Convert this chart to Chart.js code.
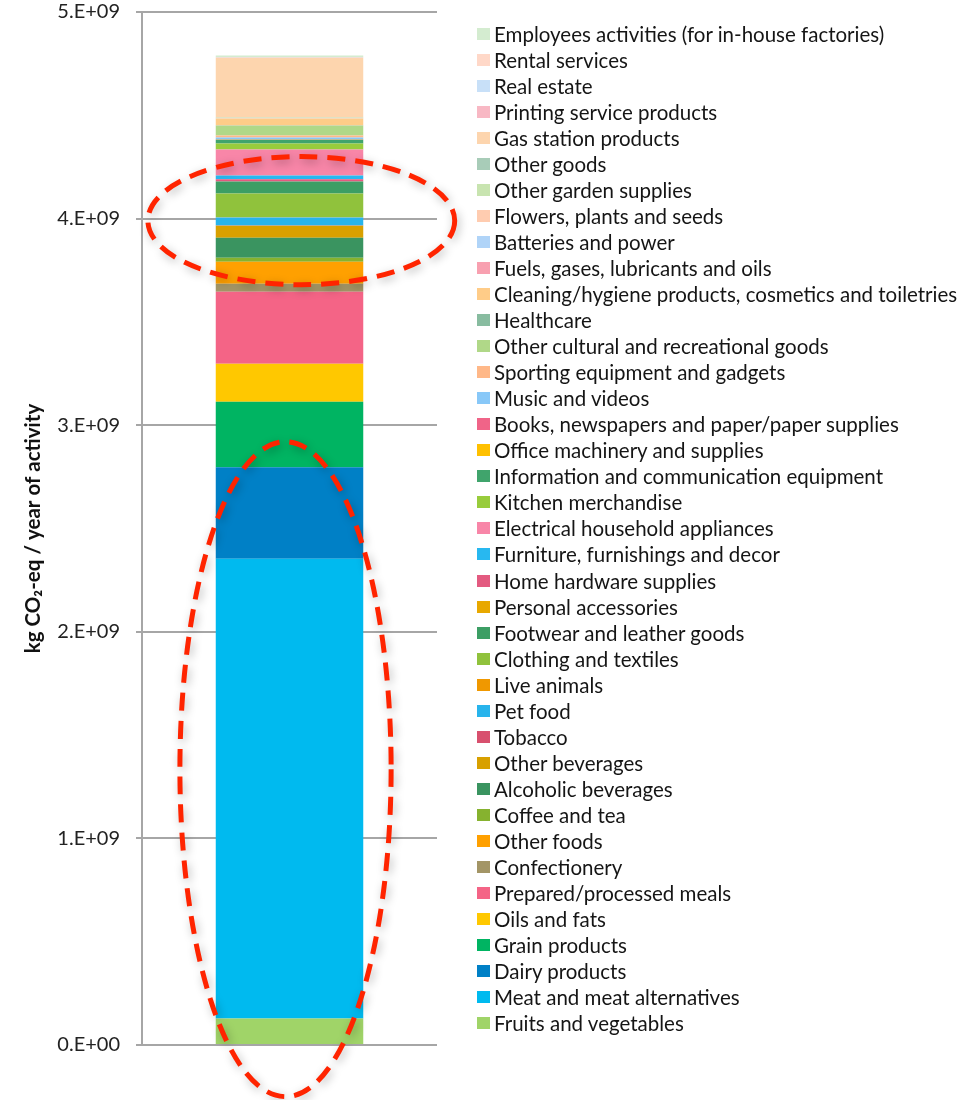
<!DOCTYPE html>
<html>
<head>
<meta charset="utf-8">
<script src="https://cdn.jsdelivr.net/npm/chart.js@4.4.1/dist/chart.umd.min.js"></script>
<style>
  html, body { margin: 0; padding: 0; background: #fff; }
  #wrap { position: relative; width: 976px; height: 1100px; }
  #c { position: absolute; left: 0; top: 0; }
  #legend { position: absolute; left: 477px; top: 20.5px; font-family: Lato, "Open Sans", sans-serif; font-size: 20.5px; color: #151515; }
  .item { display: flex; align-items: center; height: 26.05px; white-space: nowrap; }
  .box { width: 13px; height: 12px; margin-right: 4px; flex: none; }
</style>
</head>
<body>
<div id="wrap">
  <canvas id="c" width="976" height="1100"></canvas>
  <div id="legend"></div>
</div>
<script>
// Categories, bottom of the stack first
const categories = [
  "Fruits and vegetables",
  "Meat and meat alternatives",
  "Dairy products",
  "Grain products",
  "Oils and fats",
  "Prepared/processed meals",
  "Confectionery",
  "Other foods",
  "Coffee and tea",
  "Alcoholic beverages",
  "Other beverages",
  "Tobacco",
  "Pet food",
  "Live animals",
  "Clothing and textiles",
  "Footwear and leather goods",
  "Personal accessories",
  "Home hardware supplies",
  "Furniture, furnishings and decor",
  "Electrical household appliances",
  "Kitchen merchandise",
  "Information and communication equipment",
  "Office machinery and supplies",
  "Books, newspapers and paper/paper supplies",
  "Music and videos",
  "Sporting equipment and gadgets",
  "Other cultural and recreational goods",
  "Healthcare",
  "Cleaning/hygiene products, cosmetics and toiletries",
  "Fuels, gases, lubricants and oils",
  "Batteries and power",
  "Flowers, plants and seeds",
  "Other garden supplies",
  "Other goods",
  "Gas station products",
  "Printing service products",
  "Real estate",
  "Rental services",
  "Employees activities (for in-house factories)"
];

// kg CO2-eq / year of activity
const values = [
  0.128e9, 2.226e9, 0.442e9, 0.318e9, 0.184e9, 0.348e9, 0.039e9, 0.106e9,
  0.019e9, 0.097e9, 0.058e9, 0.001e9, 0.039e9, 0.001e9, 0.115e9, 0.058e9,
  0.001e9, 0.010e9, 0.019e9, 0.125e9, 0.029e9, 0.019e9, 0.001e9, 0.001e9,
  0.009e9, 0.009e9, 0.048e9, 0.001e9, 0.033e9, 0.001e9, 0.001e9, 0.001e9,
  0.001e9, 0.001e9, 0.288e9, 0.001e9, 0.001e9, 0.001e9, 0.010e9
];

const colors = [
  "#a0d468", "#00baef", "#0080c6", "#00b462", "#ffc800", "#f46486", "#a39566", "#ffa000",
  "#86b22f", "#3a9460", "#d8a000", "#d8506e", "#28b4ec", "#f09800", "#90c23c", "#3c9e64",
  "#e8a800", "#e35a80", "#28b8f0", "#f886a8", "#98cc3c", "#40a46c", "#ffc000", "#f06488",
  "#88c8f8", "#ffb888", "#b0d888", "#88bca0", "#ffcc88", "#f8a0b0", "#b0d4f8", "#ffccb0",
  "#c8e4b0", "#a8ccb8", "#fdd5ae", "#f8b8c4", "#c8e0f8", "#ffd8c8", "#d4ecd0"
];

const yTicks = [0, 1e9, 2e9, 3e9, 4e9, 5e9];
const yTickLabels = ["0.E+00", "1.E+09", "2.E+09", "3.E+09", "4.E+09", "5.E+09"];

// Highlight ellipses (value units on y, multiples of bar width on x)
const highlightYFrom = [3.68e9, -0.25e9];
const highlightYTo   = [4.30e9, 2.92e9];
const highlightDx    = [0.08, -0.027];
const highlightRx    = [1.04, 0.716];

const ellipsePlugin = {
  id: 'ellipses',
  afterDraw(chart) {
    const ctx = chart.ctx;
    const y = chart.scales.y;
    const bar = chart.getDatasetMeta(0).data[0];
    const bw = bar.width;
    ctx.save();
    for (let i = 0; i < highlightYFrom.length; i++) {
      const y1 = y.getPixelForValue(highlightYFrom[i]);
      const y2 = y.getPixelForValue(highlightYTo[i]);
      const cy = (y1 + y2) / 2, ry = Math.abs(y1 - y2) / 2;
      const cx = bar.x + highlightDx[i] * bw, rx = highlightRx[i] * bw;
      ctx.beginPath();
      ctx.ellipse(cx, cy, rx, ry, 0, 0, Math.PI * 2);
      ctx.setLineDash([18, 10]);
      ctx.lineWidth = 5;
      ctx.strokeStyle = '#ff2400';
      ctx.shadowColor = 'rgba(0,0,0,0.28)';
      ctx.shadowBlur = 10;
      ctx.shadowOffsetX = 2;
      ctx.shadowOffsetY = 3;
      ctx.stroke();
    }
    ctx.restore();
  }
};

const datasets = categories.map((name, i) => ({
  label: name,
  data: [values[i]],
  backgroundColor: colors[i],
  borderWidth: 0,
  categoryPercentage: 1.0,
  barPercentage: 0.5
}));

new Chart(document.getElementById('c'), {
  type: 'bar',
  data: { labels: [''], datasets },
  options: {
    responsive: false,
    animation: false,
    layout: { padding: { left: 18, right: 539, top: 12, bottom: 55 } },
    plugins: { legend: { display: false }, tooltip: { enabled: false } },
    scales: {
      x: { stacked: true, display: false },
      y: {
        stacked: true,
        min: 0,
        max: 5e9,
        afterBuildTicks(scale) { scale.ticks = yTicks.map(v => ({ value: v })); },
        afterFit(scale) { scale.width = 124; scale.paddingTop = 0; scale.paddingBottom = 0; },
        ticks: {
          padding: 16,
          color: '#222',
          font: { family: 'Lato, "Open Sans", sans-serif', size: 20 },
          callback(v) { const k = yTicks.indexOf(v); return k >= 0 ? yTickLabels[k] : ''; }
        },
        grid: { color: '#a6a6a6', lineWidth: 2, tickLength: 6, drawTicks: true },
        border: { display: true, color: '#a6a6a6', width: 2 },
        title: {
          display: true,
          text: 'kg CO₂-eq / year of activity',
          color: '#111',
          font: { family: 'Lato, "Open Sans", sans-serif', size: 20.5, weight: 'bold' },
          padding: { top: 3, bottom: 3 }
        }
      }
    }
  },
  plugins: [ellipsePlugin]
});

// Legend (top = last category)
const leg = document.getElementById('legend');
for (let i = categories.length - 1; i >= 0; i--) {
  const row = document.createElement('div');
  row.className = 'item';
  const b = document.createElement('span');
  b.className = 'box';
  b.style.background = colors[i];
  const t = document.createElement('span');
  t.textContent = categories[i];
  row.appendChild(b);
  row.appendChild(t);
  leg.appendChild(row);
}
</script>
</body>
</html>
